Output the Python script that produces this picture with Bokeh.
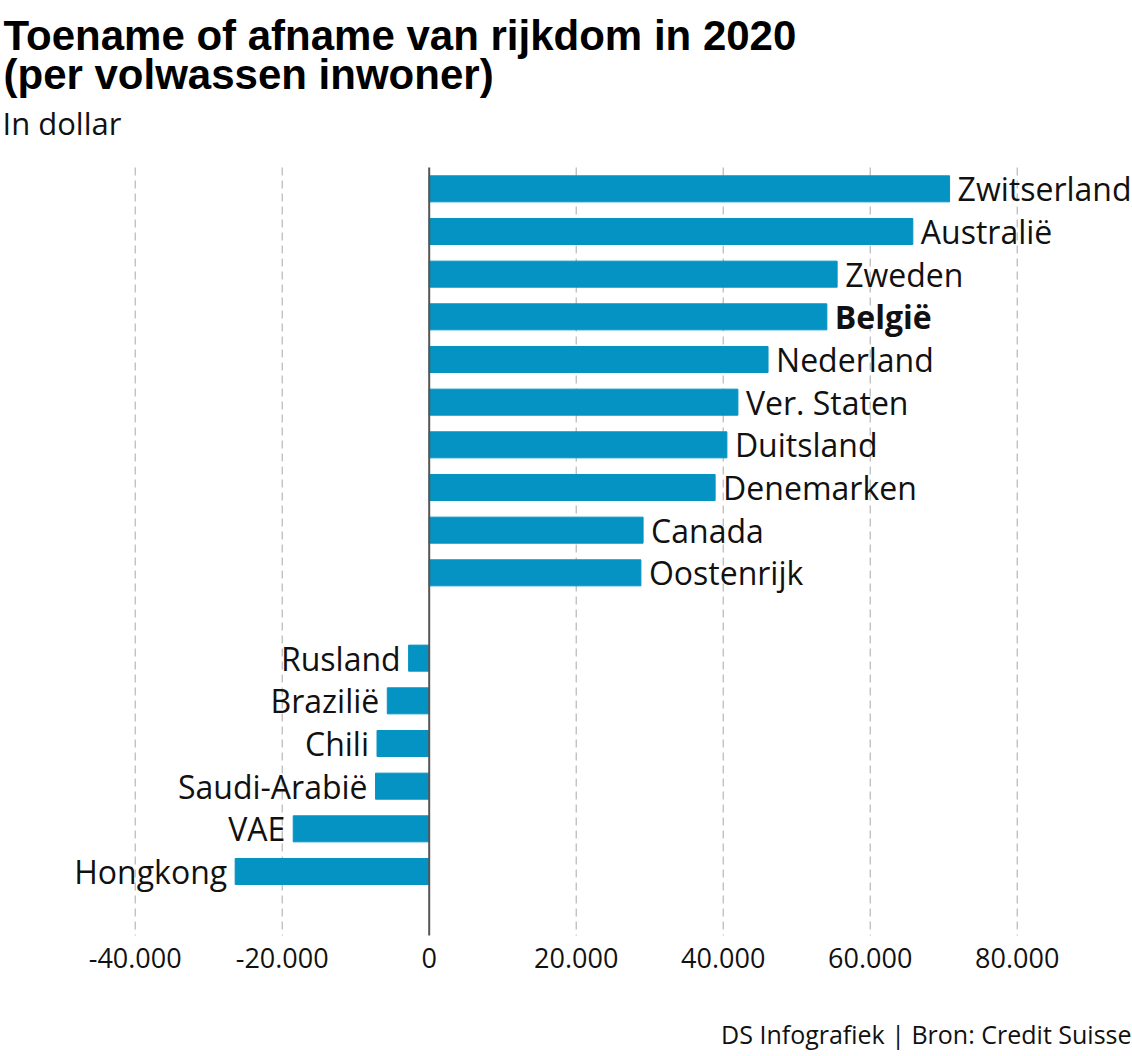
from bokeh.plotting import figure
from bokeh.models import Range1d, ColumnDataSource, FixedTicker, Label
from bokeh.core.properties import value, field
from bokeh.embed import file_html
from bokeh.resources import INLINE

title_line1 = "Toename of afname van rijkdom in 2020"
title_line2 = "(per volwassen inwoner)"
subtitle = "In dollar"
source_text = "DS Infografiek | Bron: Credit Suisse"

gain_countries = ["Zwitserland", "Australië", "Zweden", "België", "Nederland",
                  "Ver. Staten", "Duitsland", "Denemarken", "Canada", "Oostenrijk"]
gain_values = [70800, 65800, 55500, 54100, 46100, 42000, 40500, 38900, 29100, 28800]
loss_countries = ["Rusland", "Brazilië", "Chili", "Saudi-Arabië", "VAE", "Hongkong"]
loss_values = [-2800, -5700, -7100, -7300, -18500, -26400]
highlight = "België"
tick_values = [-40000, -20000, 0, 20000, 40000, 60000, 80000]
tick_labels = ["-40.000", "-20.000", "0", "20.000", "40.000", "60.000", "80.000"]

BAR = "#0493c2"
FONT = "Open Sans"
W, H = 1132, 1056
HEADER = 167          # pixels above the bar area
FOOTER = 121          # pixels below the bar area (tick labels + source)

gain_y = list(range(len(gain_countries)))
loss_y = [len(gain_countries) + 1 + i for i in range(len(loss_countries))]
n_slots = loss_y[-1] + 2
slot_px = (H - FOOTER - HEADER) / n_slots
area_top = -0.5
area_bottom = n_slots - 0.5
y_top = area_top - HEADER / slot_px
y_bottom = area_bottom + FOOTER / slot_px

gain_src = ColumnDataSource(dict(
    y=gain_y, v=gain_values, name=gain_countries,
    style=["bold" if c == highlight else "normal" for c in gain_countries]))
loss_src = ColumnDataSource(dict(
    y=loss_y, v=loss_values, name=loss_countries,
    style=["bold" if c == highlight else "normal" for c in loss_countries]))

p = figure(width=W, height=H,
           x_range=Range1d(-58327, 95687),
           y_range=Range1d(y_bottom, y_top),
           y_axis_location=None,
           output_backend="svg", toolbar_location=None,
           min_border_left=0, min_border_right=0,
           min_border_top=0, min_border_bottom=0)
p.outline_line_color = None
p.background_fill_color = "white"
p.border_fill_color = "white"
p.xgrid.visible = False
p.ygrid.visible = False

# axis drawn at the bottom edge of the bar area
ax = p.xaxis[0]
ax.fixed_location = area_bottom
ax.ticker = FixedTicker(ticks=tick_values)
ax.major_label_overrides = {t: l for t, l in zip(tick_values, tick_labels)}
ax.axis_line_color = None
ax.major_tick_line_color = None
ax.minor_tick_line_color = None
ax.major_label_text_font = FONT
ax.major_label_text_font_size = "27px"
ax.major_label_text_color = "#111111"
ax.major_label_standoff = 6

# dashed grid lines limited to the bar area, solid zero line
grid_ticks = [t for t in tick_values if t != 0]
p.segment(x0=grid_ticks, x1=grid_ticks, y0=[area_top] * len(grid_ticks),
          y1=[area_bottom] * len(grid_ticks), line_color="#a8a8a8",
          line_dash="8 5", line_width=1)

p.hbar(y="y", left=0, right="v", height=0.61, color=BAR, source=gain_src)
p.hbar(y="y", left=0, right="v", height=0.61, color=BAR, source=loss_src)

p.segment(x0=[0], x1=[0], y0=[area_top], y1=[area_bottom],
          line_color="#555555", line_width=2)

p.text(x="v", y="y", text="name", source=gain_src, x_offset=8, y_offset=0,
       text_align="left", text_baseline="alphabetic",
       text_font=value(FONT), text_font_size="32px", text_color="#111111",
       text_font_style=field("style"))
p.text(x="v", y="y", text="name", source=loss_src, x_offset=-8, y_offset=0,
       text_align="right", text_baseline="alphabetic",
       text_font=value(FONT), text_font_size="32px", text_color="#111111",
       text_font_style=field("style"))

# header / footer texts: screen units measured from the frame's lower-left corner
p.add_layout(Label(x=3, y=H - 35, x_units="screen", y_units="screen",
                   text=title_line1, text_font="Liberation Sans", text_font_size="42px",
                   text_font_style="bold", text_color="#000000",
                   text_align="left", text_baseline="alphabetic"))
p.add_layout(Label(x=3, y=H - 74, x_units="screen", y_units="screen",
                   text=title_line2, text_font="Liberation Sans", text_font_size="42px",
                   text_font_style="bold", text_color="#000000",
                   text_align="left", text_baseline="alphabetic"))
p.add_layout(Label(x=2, y=H - 122, x_units="screen", y_units="screen",
                   text=subtitle, text_font=FONT, text_font_size="31px",
                   text_color="#111111",
                   text_align="left", text_baseline="alphabetic"))
p.add_layout(Label(x=W - 1, y=H - 1033, x_units="screen", y_units="screen",
                   text=source_text, text_font=FONT, text_font_size="25px",
                   text_color="#111111",
                   text_align="right", text_baseline="alphabetic"))

open("out.html", "w").write(file_html(p, INLINE))
